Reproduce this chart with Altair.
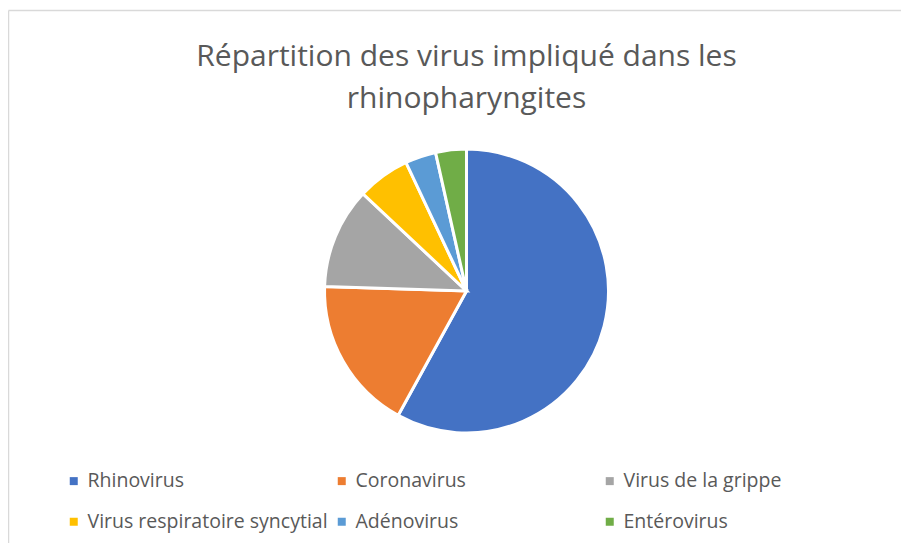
import altair as alt
import pandas as pd

categories = ["Rhinovirus", "Coronavirus", "Virus de la grippe",
              "Virus respiratoire syncytial", "Adénovirus", "Entérovirus"]
values = [58, 17.5, 11.5, 6, 3.5, 3.5]
colors = ["#4472C4", "#ED7D31", "#A5A5A5", "#FFC000", "#5B9BD5", "#70AD47"]
title_lines = ["Répartition des virus impliqué dans les", "rhinopharyngites"]

df = pd.DataFrame({"virus": categories, "pct": values, "ordre": list(range(len(categories)))})
one = pd.DataFrame({"k": [0]})

pie = alt.Chart(df).mark_arc(radius=142, stroke="white", strokeWidth=3).encode(
    theta=alt.Theta("pct:Q", stack=True),
    order=alt.Order("ordre:Q"),
    color=alt.Color(
        "virus:N",
        scale=alt.Scale(domain=categories, range=colors),
        legend=alt.Legend(
            orient="none", legendX=56, legendY=463, direction="horizontal",
            columns=3, symbolType="square", symbolSize=64, symbolStrokeWidth=0,
            labelFont="Open Sans", labelFontSize=19.5, labelColor="#595959",
            labelOffset=4, gridAlign="all", columnPadding=4, rowPadding=20,
            title=None, padding=0, labelLimit=400, symbolOpacity=1,
        ),
    ),
    x=alt.value(458.5),
    y=alt.value(283),
)

top_line = alt.Chart(one).mark_rule(color="#D9D9D9", strokeWidth=1.5).encode(
    x=alt.value(0.5), x2=alt.value(893), y=alt.value(2.5)
)
left_line = alt.Chart(one).mark_rule(color="#D9D9D9", strokeWidth=1.5).encode(
    x=alt.value(0.5), y=alt.value(2.5), y2=alt.value(535)
)

chart = alt.layer(top_line, left_line, pie).properties(
    width=893, height=535,
    autosize=alt.AutoSizeParams(type="none"),
    padding=0,
    title=alt.TitleParams(
        text=title_lines, anchor="middle", font="Open Sans", fontSize=30,
        fontWeight="normal", color="#595959", lineHeight=42, dx=12, dy=110,
    ),
).configure_view(stroke=None)

chart.save("out.html", embed_options={"renderer": "svg", "actions": False})
